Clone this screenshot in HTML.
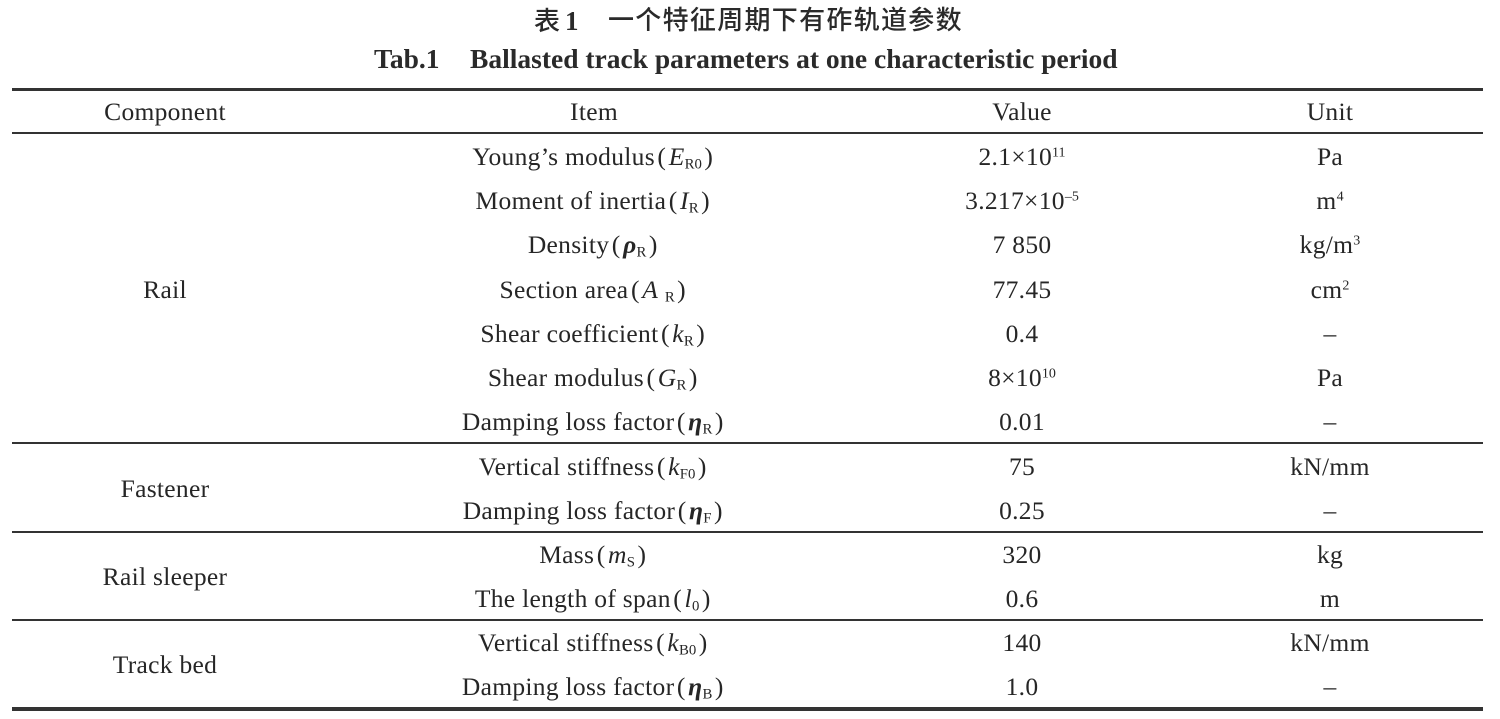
<!DOCTYPE html>
<html>
<head>
<meta charset="utf-8">
<style>
  html, body { margin:0; padding:0; background:#fff; }
  body { width:1500px; height:719px; position:relative; overflow:hidden;
         font-family:"Liberation Serif", "Noto Serif CJK SC", serif; color:#262626; }
  .t-cn { position:absolute; left:534px; top:3px; height:36px; line-height:36px;
          font-family:"Liberation Serif","Noto Sans CJK SC",sans-serif; font-size:26px; font-weight:500; white-space:nowrap; color:#2a2a2a; }
  .t-cn .one { font-family:"Liberation Serif",serif; font-weight:bold; font-size:27px; margin-left:5px; }
  .t-cn .rest { position:absolute; left:74px; top:0; letter-spacing:1.3px; }
  .t-en { position:absolute; top:41px; height:36px; line-height:36px; font-size:27.5px; font-weight:bold; white-space:nowrap; color:#2a2a2a; }
  .line { position:absolute; left:12px; width:1471px; background:#333; }
  .row { position:absolute; left:0; width:1500px; height:44px; line-height:44px; font-size:25.5px; letter-spacing:0.3px; white-space:nowrap; }
  .c { position:absolute; top:0; text-align:center; }
  .comp { left:15px; width:300px; }
  .item { left:344px; width:500px; }
  .val { left:872px; width:300px; }
  .unit { left:1180px; width:300px; }
  .p { margin:0 2.5px; }
  i { font-style:italic; }
  .eta { font-style:italic; font-weight:bold; }
  sub { font-size:0.58em; vertical-align:-0.25em; line-height:0; font-style:normal; letter-spacing:0; }
  sup { font-size:0.55em; vertical-align:0.6em; line-height:0; letter-spacing:0; }
</style>
</head>
<body>
  <div class="t-cn">表<span class="one">1</span><span class="rest">一个特征周期下有砟轨道参数</span></div>
  <div class="t-en" style="left:374px;">Tab.1</div>
  <div class="t-en" style="left:470px;">Ballasted track parameters at one characteristic period</div>

  <div class="line" style="top:88px;height:3px;"></div>
  <div class="line" style="top:132px;height:2px;"></div>
  <div class="line" style="top:442px;height:2px;"></div>
  <div class="line" style="top:531px;height:2px;"></div>
  <div class="line" style="top:619px;height:2px;"></div>
  <div class="line" style="top:707px;height:4px;"></div>

  <!-- header -->
  <div class="row" style="top:90px;">
    <div class="c comp">Component</div>
    <div class="c item">Item</div>
    <div class="c val">Value</div>
    <div class="c unit">Unit</div>
  </div>

  <!-- Rail group -->
  <div class="row" style="top:268px;"><div class="c comp">Rail</div></div>
  <div class="row" style="top:135px;">
    <div class="c item">Young’s modulus<span class="p">(</span><i>E</i><sub>R0</sub><span class="p">)</span></div>
    <div class="c val">2.1×10<sup>11</sup></div>
    <div class="c unit">Pa</div>
  </div>
  <div class="row" style="top:179px;">
    <div class="c item">Moment of inertia<span class="p">(</span><i>I</i><sub>R</sub><span class="p">)</span></div>
    <div class="c val">3.217×10<sup>–5</sup></div>
    <div class="c unit">m<sup>4</sup></div>
  </div>
  <div class="row" style="top:223px;">
    <div class="c item">Density<span class="p">(</span><span class="eta">ρ</span><sub>R</sub><span class="p">)</span></div>
    <div class="c val">7 850</div>
    <div class="c unit">kg/m<sup>3</sup></div>
  </div>
  <div class="row" style="top:268px;">
    <div class="c item">Section area<span class="p">(</span><i>A</i> <sub>R</sub><span class="p">)</span></div>
    <div class="c val">77.45</div>
    <div class="c unit">cm<sup>2</sup></div>
  </div>
  <div class="row" style="top:312px;">
    <div class="c item">Shear coefficient<span class="p">(</span><i>k</i><sub>R</sub><span class="p">)</span></div>
    <div class="c val">0.4</div>
    <div class="c unit">–</div>
  </div>
  <div class="row" style="top:356px;">
    <div class="c item">Shear modulus<span class="p">(</span><i>G</i><sub>R</sub><span class="p">)</span></div>
    <div class="c val">8×10<sup>10</sup></div>
    <div class="c unit">Pa</div>
  </div>
  <div class="row" style="top:400px;">
    <div class="c item">Damping loss factor<span class="p">(</span><span class="eta">η</span><sub>R</sub><span class="p">)</span></div>
    <div class="c val">0.01</div>
    <div class="c unit">–</div>
  </div>

  <!-- Fastener -->
  <div class="row" style="top:467px;"><div class="c comp">Fastener</div></div>
  <div class="row" style="top:445px;">
    <div class="c item">Vertical stiffness<span class="p">(</span><i>k</i><sub>F0</sub><span class="p">)</span></div>
    <div class="c val">75</div>
    <div class="c unit">kN/mm</div>
  </div>
  <div class="row" style="top:489px;">
    <div class="c item">Damping loss factor<span class="p">(</span><span class="eta">η</span><sub>F</sub><span class="p">)</span></div>
    <div class="c val">0.25</div>
    <div class="c unit">–</div>
  </div>

  <!-- Rail sleeper -->
  <div class="row" style="top:555px;"><div class="c comp">Rail sleeper</div></div>
  <div class="row" style="top:533px;">
    <div class="c item">Mass<span class="p">(</span><i>m</i><sub>S</sub><span class="p">)</span></div>
    <div class="c val">320</div>
    <div class="c unit">kg</div>
  </div>
  <div class="row" style="top:577px;">
    <div class="c item">The length of span<span class="p">(</span><i>l</i><sub>0</sub><span class="p">)</span></div>
    <div class="c val">0.6</div>
    <div class="c unit">m</div>
  </div>

  <!-- Track bed -->
  <div class="row" style="top:643px;"><div class="c comp">Track bed</div></div>
  <div class="row" style="top:621px;">
    <div class="c item">Vertical stiffness<span class="p">(</span><i>k</i><sub>B0</sub><span class="p">)</span></div>
    <div class="c val">140</div>
    <div class="c unit">kN/mm</div>
  </div>
  <div class="row" style="top:665px;">
    <div class="c item">Damping loss factor<span class="p">(</span><span class="eta">η</span><sub>B</sub><span class="p">)</span></div>
    <div class="c val">1.0</div>
    <div class="c unit">–</div>
  </div>
</body>
</html>
